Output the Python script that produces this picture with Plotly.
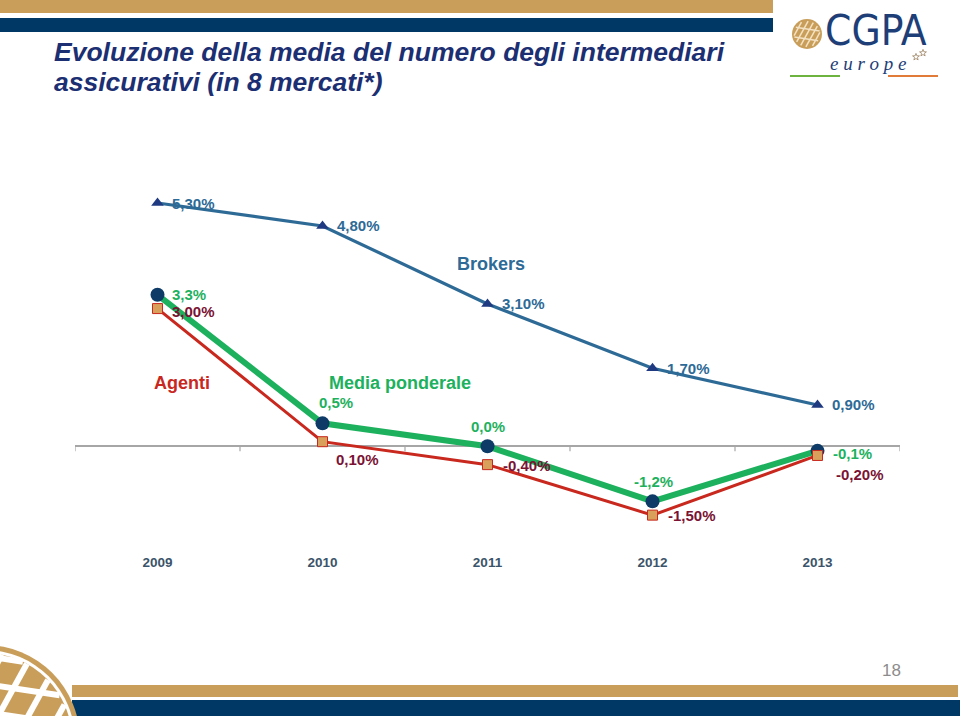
import math
import plotly.graph_objects as go

# ---------------- data ----------------
years = ["2009", "2010", "2011", "2012", "2013"]
brokers = [5.30, 4.80, 3.10, 1.70, 0.90]
media = [3.3, 0.5, 0.0, -1.2, -0.1]
agenti = [3.00, 0.10, -0.40, -1.50, -0.20]

title_lines = ["Evoluzione della media del numero degli intermediari",
               "assicurativi (in 8 mercati*)"]
series_names = ["Brokers", "Media ponderale", "Agenti"]
page_number = "18"

# ---------------- style ----------------
W, H = 960, 716
L, R, T, B = 75, 60, 180, 168
PW, PH = W - L - R, H - T - B

def px(x):
    return (x - L) / PW

def py(y):
    return (H - B - y) / PH

C_BROK = "#2E6A96"
C_BROK_M = "#1F3A80"
C_MED = "#1DB15E"
C_MED_M = "#0D3A66"
C_AG = "#C8281E"
C_AG_M = "#D9A05B"
C_AG_T = "#7A1233"
GOLD = "#C99E5A"
NAVY = "#003865"
TITLE = "#1C2F72"
FONT = "Liberation Sans, Arial, sans-serif"

def fmt(v, d):
    return f"{v:.{d}f}".replace(".", ",") + "%"

x = list(range(len(years)))

fig = go.Figure()
fig.add_trace(go.Scatter(x=x, y=brokers, mode="lines+markers", name=series_names[0],
                         line=dict(color=C_BROK, width=3.2),
                         marker=dict(symbol="triangle-up", size=11, color=C_BROK_M),
                         hoverinfo="skip"))
fig.add_trace(go.Scatter(x=x, y=media, mode="lines+markers", name=series_names[1],
                         line=dict(color=C_MED, width=6),
                         marker=dict(symbol="circle", size=14, color=C_MED_M),
                         hoverinfo="skip"))
fig.add_trace(go.Scatter(x=x, y=agenti, mode="lines+markers", name=series_names[2],
                         line=dict(color=C_AG, width=3),
                         marker=dict(symbol="square", size=10, color=C_AG_M,
                                     line=dict(color=C_AG, width=1)),
                         hoverinfo="skip"))

ann = []
# label offsets (anchor, xshift, yshift)
b_off = [("left", 13, 0)] * 5
m_off = [("left", 13, 0), ("center", 13, 21), ("center", 0, 20), ("center", 1, 20), ("left", 14, -3)]
a_off = [("left", 13, -3), ("left", 12, -18), ("left", 14, -1), ("left", 14, 0), ("left", 17, -19)]

for vals, offs, dec, col in [(brokers, b_off, 2, C_BROK), (media, m_off, 1, C_MED), (agenti, a_off, 2, C_AG_T)]:
    for i, v in enumerate(vals):
        xa, xs, ys = offs[i]
        ann.append(dict(x=i, y=v, xref="x", yref="y", text=f"<b>{fmt(v, dec)}</b>",
                        showarrow=False, xanchor=xa, yanchor="middle", xshift=xs, yshift=ys,
                        borderpad=0,
                        font=dict(family=FONT, size=15, color=col)))

# series name labels
ann.append(dict(x=2.02, y=3.97, xref="x", yref="y", text="<b>Brokers</b>", showarrow=False,
                font=dict(family=FONT, size=18, color=C_BROK)))
ann.append(dict(x=0.15, y=1.38, xref="x", yref="y", text="<b>Agenti</b>", showarrow=False,
                font=dict(family=FONT, size=18, color=C_AG)))
ann.append(dict(x=1.47, y=1.38, xref="x", yref="y", text="<b>Media ponderale</b>", showarrow=False,
                font=dict(family=FONT, size=18, color=C_MED)))

# title
for i, t in enumerate(title_lines):
    ann.append(dict(x=px(52), y=py(52 + 30 * i), xref="paper", yref="paper", xanchor="left",
                    yanchor="middle", text=f"<b><i>{t}</i></b>", showarrow=False,
                    font=dict(family=FONT, size=26.5, color=TITLE)))

# logo text
ann.append(dict(x=px(824), y=py(31), xref="paper", yref="paper", xanchor="left", yanchor="middle",
                text="CGPA", showarrow=False, borderpad=0,
                font=dict(family="Liberation Sans Narrow, DejaVu Sans Condensed, sans-serif", size=42, color="#1E3E78")))
ann.append(dict(x=px(829), y=py(63), xref="paper", yref="paper", xanchor="left", yanchor="middle",
                text="<i>e u r o p e</i>", showarrow=False, borderpad=0,
                font=dict(family="Liberation Serif, serif", size=19, color="#1E3E78")))
# page number
ann.append(dict(x=px(891), y=py(670), xref="paper", yref="paper", xanchor="center", yanchor="middle",
                text=page_number, showarrow=False,
                font=dict(family=FONT, size=17, color="#8C8C8C")))

shapes = []
def rect(x0, y0, x1, y1, color):
    shapes.append(dict(type="rect", xref="paper", yref="paper", x0=px(x0), x1=px(x1),
                       y0=py(y1), y1=py(y0), fillcolor=color, line=dict(width=0), layer="below"))

def circ(cx, cy, r, color):
    shapes.append(dict(type="circle", xref="paper", yref="paper", x0=px(cx - r), x1=px(cx + r),
                       y0=py(cy + r), y1=py(cy - r), fillcolor=color,
                       line=dict(width=0, color=color), layer="below"))

def seg(x0, y0, x1, y1, color, w):
    shapes.append(dict(type="line", xref="paper", yref="paper", x0=px(x0), x1=px(x1),
                       y0=py(y0), y1=py(y1), line=dict(color=color, width=w), layer="below"))

def chord(cx, cy, r, p0, d, color, w):
    # segment of the line p0 + t*d inside circle (cx, cy, r)
    fx, fy = p0[0] - cx, p0[1] - cy
    a = d[0] ** 2 + d[1] ** 2
    b = 2 * (fx * d[0] + fy * d[1])
    c = fx ** 2 + fy ** 2 - r ** 2
    disc = b * b - 4 * a * c
    if disc <= 0:
        return
    s = math.sqrt(disc)
    t1, t2 = (-b - s) / (2 * a), (-b + s) / (2 * a)
    seg(p0[0] + t1 * d[0], p0[1] + t1 * d[1], p0[0] + t2 * d[0], p0[1] + t2 * d[1], color, w)

def star(cx, cy, ro, ri, color):
    pts = []
    for k in range(10):
        ang = -math.pi / 2 + k * math.pi / 5
        r = ro if k % 2 == 0 else ri
        pts.append((px(cx + r * math.cos(ang)), py(cy + r * math.sin(ang))))
    path = "M " + " L ".join(f"{a:.5f},{b:.5f}" for a, b in pts) + " Z"
    shapes.append(dict(type="path", xref="paper", yref="paper", path=path,
                       line=dict(color=color, width=0.8), fillcolor="rgba(0,0,0,0)"))

# top bars
rect(0, 0, 773, 13, GOLD)
rect(0, 18, 773, 32, NAVY)
# bottom bars
rect(72, 685, 958, 697, GOLD)
rect(72, 700, 960, 716, NAVY)

# bottom-left globe logo
cx, cy = -15, 740
circ(cx, cy, 95, GOLD)
circ(cx, cy, 90, "white")
circ(cx, cy, 87, GOLD)
for k in range(-3, 4):
    chord(cx, cy, 87, (cx + k * 30, cy), (0.55, -1.0), "white", 6)
for k in range(1, 4):
    chord(cx, cy, 87, (cx, cy - k * 28), (1.0, 0.15), "white", 6)

# top-right globe icon
gx, gy = 807, 34
circ(gx, gy, 15, GOLD)
for k in range(-2, 3):
    chord(gx, gy, 13, (gx + k * 6, gy), (0.55, -1.0), "#F3E2C4", 1.5)
for k in (-1, 1):
    chord(gx, gy, 13, (gx, gy + k * 5), (1.0, 0.15), "#F3E2C4", 1.5)
# small stars next to "europe"
star(916, 57, 3.6, 1.5, "#9A8060")
star(923, 53, 3.6, 1.5, "#9A8060")
# logo underlines
seg(790, 76, 840, 76, "#6DB33F", 2)
seg(888, 76, 938, 76, "#E07B39", 2)

# axis ticks at category boundaries
for i in range(len(years) + 1):
    shapes.append(dict(type="line", xref="x", yref="y", x0=i - 0.5, x1=i - 0.5,
                       ysizemode="pixel", yanchor=0, y0=0, y1=-5,
                       line=dict(color="#A6A6A6", width=1.2)))

fig.update_layout(
    width=W, height=H,
    margin=dict(l=L, r=R, t=T, b=B),
    paper_bgcolor="white", plot_bgcolor="white",
    showlegend=False,
    annotations=ann, shapes=shapes,
    xaxis=dict(range=[-0.5, 4.5], tickvals=x, ticktext=[f"<b>{y}</b>" for y in years],
               showgrid=False, zeroline=False, showline=False, ticks="", ticklabelstandoff=4,
               tickfont=dict(family=FONT, size=13.5, color="#3B546A"), fixedrange=True),
    yaxis=dict(range=[-2.216, 5.801], showgrid=False, zeroline=True, zerolinecolor="#A6A6A6",
               zerolinewidth=1.5, showticklabels=False, showline=False, fixedrange=True),
)

fig.write_html("out.html", config={"displayModeBar": False},
               post_script="document.body.style.margin='0';document.body.style.overflow='hidden';")
